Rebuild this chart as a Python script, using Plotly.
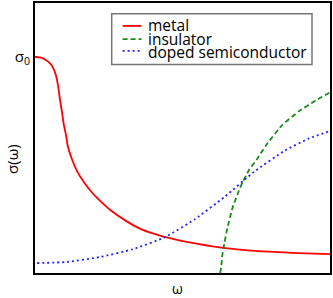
import plotly.graph_objects as go

# --- data (ω in arbitrary units 0..10, σ in units of σ0) ---
metal_w = [0, 0.17, 0.34, 0.51, 0.61, 0.71, 0.78, 0.84, 0.91, 0.98, 1.05, 1.11, 1.25, 1.42,
           1.69, 1.96, 2.20, 2.53, 3.11, 3.61, 4.32, 5.24, 6.25, 7.60, 8.95, 10.0]
metal_s = [1.00, 0.998, 0.988, 0.970, 0.951, 0.914, 0.869, 0.809, 0.749, 0.685, 0.639, 0.588,
           0.528, 0.473, 0.414, 0.368, 0.335, 0.294, 0.239, 0.202, 0.170, 0.142, 0.119, 0.101,
           0.092, 0.087]

ins_w = [6.28, 6.32, 6.35, 6.42, 6.52, 6.69, 6.86, 7.03, 7.26, 7.53, 7.84, 8.38, 8.95, 9.53, 10.0]
ins_s = [0.0, 0.037, 0.083, 0.138, 0.207, 0.299, 0.363, 0.418, 0.478, 0.528, 0.593, 0.685,
         0.749, 0.800, 0.836]

semi_w = [0.07, 1.08, 2.20, 3.31, 4.39, 5.41, 6.42, 7.43, 8.45, 9.29, 10.0]
semi_s = [0.046, 0.051, 0.074, 0.110, 0.165, 0.248, 0.352, 0.469, 0.565, 0.623, 0.657]

names = ["metal", "insulator", "doped semiconductor"]
colors = ["#ff0000", "#1a8a1a", "#2222ff"]
dashes = ["solid", "5px,3px", "2px,3px"]

FONT = "Open Sans, Liberation Sans, sans-serif"

fig = go.Figure()
for (xs, ys), name, c, d in zip([(metal_w, metal_s), (ins_w, ins_s), (semi_w, semi_s)],
                                names, colors, dashes):
    fig.add_trace(go.Scatter(x=xs, y=ys, mode="lines", name=name,
                             line=dict(color=c, width=1.8, dash=d, shape="spline", smoothing=0.5),
                             showlegend=False, hoverinfo="skip"))

# manual legend
box = dict(x0=0.260, x1=0.939, y0=0.772, y1=0.960)
fig.add_shape(type="rect", xref="paper", yref="paper", **box,
              line=dict(color="#777777", width=1.5), fillcolor="white", layer="above")
ly = [0.915, 0.866, 0.823]
ty = [0.917, 0.866, 0.818]
for name, c, d, yl, yt in zip(names, colors, dashes, ly, ty):
    fig.add_shape(type="line", xref="paper", yref="paper", x0=0.297, x1=0.361, y0=yl, y1=yl,
                  line=dict(color=c, width=1.8, dash=d), layer="above")
    fig.add_annotation(xref="paper", yref="paper", x=0.376, y=yt, text=name, showarrow=False,
                       xanchor="left", yanchor="middle", font=dict(family=FONT, size=15.5, color="black"))

# axis titles
fig.add_annotation(xref="paper", yref="paper", x=(178 - 35) / 296, y=-(289 - 273) / 272,
                   text="ω", showarrow=False, xanchor="center", yanchor="middle",
                   font=dict(family=FONT, size=14, color="black"))
fig.add_annotation(xref="paper", yref="paper", x=-(23) / 296, y=(273 - 158) / 272,
                   text="σ(ω)", showarrow=False, textangle=-90, xanchor="center", yanchor="middle",
                   font=dict(family=FONT, size=15, color="black"))

fig.update_layout(
    width=333, height=298,
    margin=dict(l=35, r=2, t=1, b=25),
    paper_bgcolor="white", plot_bgcolor="white",
    font=dict(family=FONT, size=15, color="black"),
    xaxis=dict(range=[0, 10], showgrid=False, zeroline=False, showticklabels=False, ticks="",
               showline=True, mirror=True, linecolor="black", linewidth=2, fixedrange=True),
    yaxis=dict(range=[0, 1.25], showgrid=False, zeroline=False, tickmode="array",
               tickvals=[1.0], ticktext=["σ<sub>0</sub>"], ticks="", ticklen=0,
               tickfont=dict(family=FONT, size=15, color="black"),
               showline=True, mirror=True, linecolor="black", linewidth=2, fixedrange=True),
)

fig.write_html("out.html", config={"displayModeBar": False},
               post_script="document.body.style.margin='0';document.body.style.overflow='hidden';")
